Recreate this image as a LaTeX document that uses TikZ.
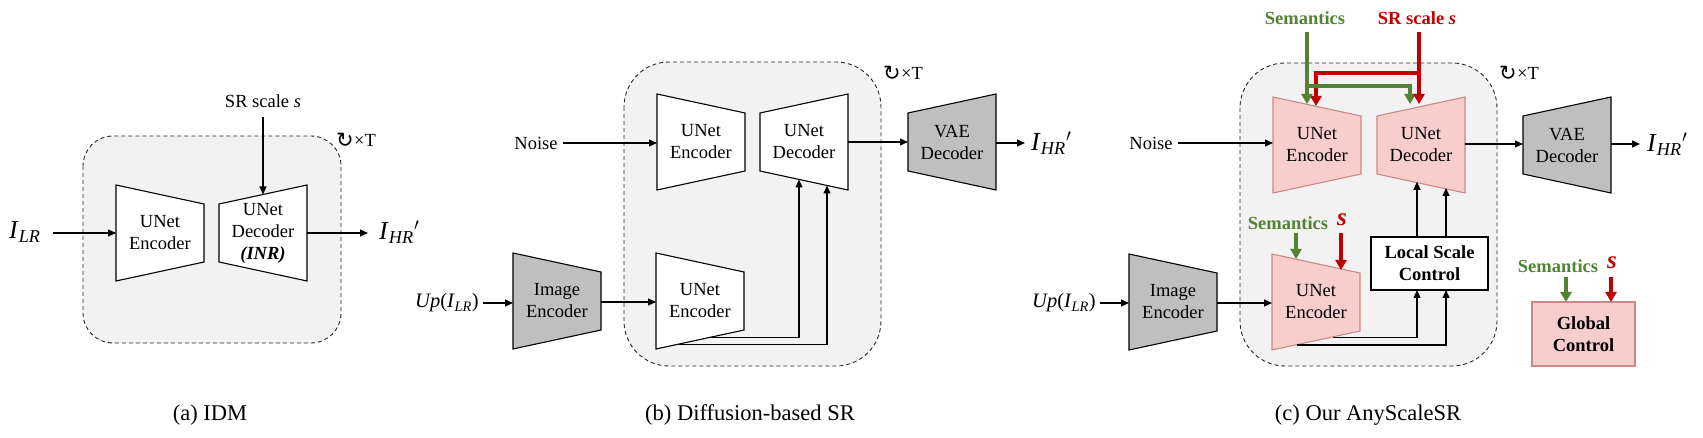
\documentclass[tikz,border=0pt]{standalone}
\usepackage{fontspec}
\setmainfont{Liberation Serif}
\newfontfamily\dejavu{DejaVu Sans}
\usetikzlibrary{arrows.meta}
\definecolor{boxgray}{HTML}{F2F2F2}
\definecolor{encgray}{HTML}{BFBFBF}
\definecolor{pinkfill}{HTML}{F8CECC}
\definecolor{pinkline}{HTML}{C98A87}
\definecolor{semgreen}{HTML}{548235}
\definecolor{scalered}{HTML}{C00000}
\tikzset{
  txt/.style={font=\fontsize{18.5}{22}\selectfont, align=center, inner sep=0pt},
  boldtxt/.style={font=\fontsize{18.5}{22}\selectfont\bfseries, align=center, inner sep=0pt},
  captxt/.style={font=\fontsize{22.5}{26}\selectfont, inner sep=0pt},
  bigmath/.style={font=\fontsize{26}{30}\selectfont, inner sep=0pt},
  midmath/.style={font=\fontsize{20.5}{24}\selectfont, inner sep=0pt},
  looptxt/.style={font=\fontsize{18.5}{22}\selectfont, inner sep=0pt},
  loopboxA/.style={fill=boxgray, draw=black!85, line width=0.9pt, dash pattern=on 4pt off 3pt, rounded corners=30pt},
  loopboxB/.style={fill=boxgray, draw=black!85, line width=0.9pt, dash pattern=on 4pt off 3pt, rounded corners=45pt},
  plainenc/.style={draw=black, fill=white, line width=1.1pt},
  grayenc/.style={draw=black, fill=encgray, line width=1.1pt},
  pinkenc/.style={draw=pinkline, fill=pinkfill, line width=1.1pt},
  conn/.style={line width=1.1pt, -{Triangle[length=8pt,width=7pt]}},
  thickg/.style={draw=semgreen, line width=3.6pt},
  thickr/.style={draw=scalered, line width=3.6pt},
  bigtip/.style={-{Triangle[length=10pt,width=11pt]}},
  semtxt/.style={font=\fontsize{18.5}{22}\selectfont\bfseries, text=semgreen, inner sep=0pt},
  scaletxt/.style={font=\fontsize{18.5}{22}\selectfont\bfseries, text=scalered, inner sep=0pt},
  bigs/.style={font=\fontsize{25}{28}\selectfont\bfseries\itshape, text=scalered, inner sep=0pt},
}
% encoder: wide on the left, narrow on the right
\newcommand{\encshape}[5]{%
  \draw[#4] (#2,#3) -- (#2+88,#3+19) -- (#2+88,#3+77) -- (#2,#3+96) -- cycle;
  \node[txt] (#1) at (#2+44,#3+48) {#5};}
% decoder: narrow on the left, wide on the right
\newcommand{\decshape}[5]{%
  \draw[#4] (#2,#3+19) -- (#2+88,#3) -- (#2+88,#3+96) -- (#2,#3+77) -- cycle;
  \node[txt] (#1) at (#2+44,#3+48) {#5};}
\newcommand{\ILR}{\textit{I}\textsubscript{\textit{LR}}}
\newcommand{\IHR}{\textit{I}\textsubscript{\textit{HR}}\kern0.5pt$'$}
\newcommand{\loopT}{{\dejavu\fontsize{21}{22}\selectfont\raisebox{-1pt}{↻}}\kern0.5pt×T}
\begin{document}
\begin{tikzpicture}[x=1pt,y=-1pt]
\useasboundingbox (0,0) rectangle (1703,438);

% ================= (a) IDM =================
\draw[loopboxA] (83,136) rectangle (341,343);
\node[looptxt] (loopa) at (356,140) {\loopT};
\encshape{aenc}{116}{185}{plainenc}{UNet\\Encoder}
\decshape{adec}{219}{185}{plainenc}{UNet\\Decoder\\\textbf{\textit{(INR)}}}
\node[bigmath, anchor=west] (ailr) at (9,232) {\ILR};
\node[bigmath, anchor=west] (aihr) at (379,232) {\IHR};
\node[txt] (ascale) at (263,101) {SR scale \textit{s}};
\coordinate (aencL) at (116,233);
\coordinate (adecR) at (307,233);
\coordinate (adecT) at (263,194.5);
\coordinate (ailrE) at (53,233);
\coordinate (aihrW) at (368,233);
\coordinate (ascaleS) at (263,117);
\draw[conn] (ailrE) -- (aencL);
\draw[conn] (adecR) -- (aihrW);
\draw[conn] (ascaleS) -- (adecT);
\node[captxt] (capa) at (210,415) {(a) IDM};

% ================= (b) Diffusion-based SR =================
\draw[loopboxB] (624,62) rectangle (881,366);
\node[looptxt] (loopb) at (903,73) {\loopT};
\encshape{benc}{657}{94}{plainenc}{UNet\\Encoder}
\decshape{bdec}{760}{94}{plainenc}{UNet\\Decoder}
\encshape{benc2}{656}{253}{plainenc}{UNet\\Encoder}
\encshape{bimg}{513}{253}{grayenc}{Image\\Encoder}
\decshape{bvae}{908}{94}{grayenc}{VAE\\Decoder}
\node[txt] (bnoise) at (536,143) {Noise};
\node[midmath] (bup) at (447,303) {\textit{Up}(\ILR)};
\node[bigmath, anchor=west] (bihr) at (1031,143) {\IHR};
\coordinate (bnoiseE) at (563,143);
\coordinate (bencL) at (657,143);
\coordinate (bdecR) at (848,142);
\coordinate (bvaeL) at (908,142);
\coordinate (bvaeR) at (996,143);
\coordinate (bihrW) at (1025,143);
\coordinate (bupE) at (483,303);
\coordinate (bimgL) at (513,303);
\coordinate (bimgR) at (601,302);
\coordinate (benc2L) at (656,302);
\coordinate (bs1) at (711,337.8);
\coordinate (bs2) at (679,344.3);
\coordinate (bt1) at (799,179.5);
\coordinate (bt2) at (827,185.5);
\draw[conn] (bnoiseE) -- (bencL);
\draw[conn] (bdecR) -- (bvaeL);
\draw[conn] (bvaeR) -- (bihrW);
\draw[conn] (bupE) -- (bimgL);
\draw[conn] (bimgR) -- (benc2L);
\draw[conn] (bs1) -| (bt1);
\draw[conn] (bs2) -| (bt2);
\node[captxt] (capb) at (750,415) {(b) Diffusion-based SR};

% ================= (c) Our AnyScaleSR =================
\draw[loopboxB] (1240,63) rectangle (1497,366);
\node[looptxt] (loopc) at (1519,73) {\loopT};
\encshape{cenc}{1273}{97}{pinkenc}{UNet\\Encoder}
\decshape{cdec}{1377}{97}{pinkenc}{UNet\\Decoder}
\encshape{cenc2}{1272}{254}{pinkenc}{UNet\\Encoder}
\encshape{cimg}{1129}{254}{grayenc}{Image\\Encoder}
\decshape{cvae}{1523}{97}{grayenc}{VAE\\Decoder}
\node[txt] (cnoise) at (1151,143) {Noise};
\node[midmath] (cup) at (1064,303) {\textit{Up}(\ILR)};
\node[bigmath, anchor=west] (cihr) at (1647,144) {\IHR};
\node[boldtxt, draw=black, fill=white, line width=1.1pt, minimum width=117pt, minimum height=53pt] (clsc) at (1429.5,263.5) {Local Scale\\Control};
\node[boldtxt, draw=pinkline, fill=pinkfill, line width=1.1pt, minimum width=103pt, minimum height=64pt] (cglob) at (1583.5,334) {Global\\Control};
\node[semtxt] (csem) at (1305,18) {Semantics};
\node[scaletxt] (cscale) at (1417,18) {SR scale \textit{s}};
\node[semtxt] (csem2) at (1288,223) {Semantics};
\node[bigs] (cs2) at (1342,220) {s};
\node[semtxt] (csem3) at (1558,266) {Semantics};
\node[bigs] (cs3) at (1612,263) {s};
\coordinate (cnoiseE) at (1178,143);
\coordinate (cencL) at (1273,143);
\coordinate (cdecR) at (1465,144);
\coordinate (cvaeL) at (1523,144);
\coordinate (cvaeR) at (1611,144);
\coordinate (cihrW) at (1640,144);
\coordinate (cupE) at (1100,303);
\coordinate (cimgL) at (1129,303);
\coordinate (cimgR) at (1217,303);
\coordinate (cenc2L) at (1272,303);
% local scale control links
\coordinate (cl1) at (1417,237);
\coordinate (cl2) at (1446,237);
\coordinate (cd1) at (1417,181.8);
\coordinate (cd2) at (1446,188);
\coordinate (cb1) at (1417,290);
\coordinate (cb2) at (1446,290);
\coordinate (cs1) at (1333,337.7);
\coordinate (cs2p) at (1297,345);
\draw[conn] (cnoiseE) -- (cencL);
\draw[conn] (cdecR) -- (cvaeL);
\draw[conn] (cvaeR) -- (cihrW);
\draw[conn] (cupE) -- (cimgL);
\draw[conn] (cimgR) -- (cenc2L);
\draw[conn] (cl1) -- (cd1);
\draw[conn] (cl2) -- (cd2);
\draw[conn] (cs1) -| (cb1);
\draw[conn] (cs2p) -| (cb2);
% semantics / scale into the top UNet
\coordinate (gtop) at (1307,32);
\coordinate (gsplit) at (1307,86);
\coordinate (gend1) at (1307,104);
\coordinate (gend2) at (1410,104);
\coordinate (rtop) at (1419,32);
\coordinate (rsplit) at (1419,73);
\coordinate (rend1) at (1316,106);
\coordinate (rend2) at (1419,104);
\draw[thickr, bigtip] (rsplit) -| (rend1);
\draw[thickg, bigtip] (gsplit) -| (gend2);
\draw[thickg, bigtip] (gtop) -- (gend1);
\draw[thickr, bigtip] (rtop) -- (rend2);
% semantics / scale into the lower UNet encoder
\coordinate (g2a) at (1296,233);
\coordinate (g2b) at (1296,259);
\coordinate (r2a) at (1341,233);
\coordinate (r2b) at (1341,270);
\draw[thickg, bigtip] (g2a) -- (g2b);
\draw[thickr, bigtip] (r2a) -- (r2b);
% semantics / scale into global control
\coordinate (g3a) at (1566,277);
\coordinate (g3b) at (1566,302);
\coordinate (r3a) at (1611,277);
\coordinate (r3b) at (1611,302);
\draw[thickg, bigtip] (g3a) -- (g3b);
\draw[thickr, bigtip] (r3a) -- (r3b);
\node[captxt] (capc) at (1368,415) {(c) Our AnyScaleSR};
\end{tikzpicture}
\end{document}
